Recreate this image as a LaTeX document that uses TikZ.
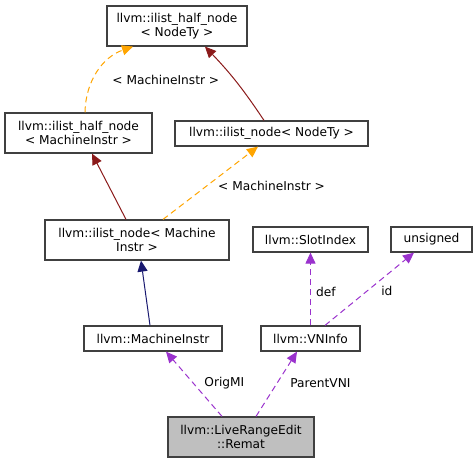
\documentclass[tikz,border=0pt]{standalone}
\usepackage{fontspec}
\setmainfont{DejaVu Sans}
\usetikzlibrary{arrows.meta,positioning}
\definecolor{tmplc}{HTML}{FFA500}
\definecolor{inhc}{HTML}{8B1A1A}
\definecolor{pubc}{HTML}{191970}
\definecolor{usec}{HTML}{9A32CD}

\begin{document}
\begin{tikzpicture}[x=1pt,y=-1pt,->,>={Stealth[length=11pt,width=10pt,inset=0pt]},line width=1pt,font=\fontsize{12.2}{14}\selectfont]
\tikzstyle{cls}=[draw=black!75,line width=1.2pt,fill=white,text=black,align=center,inner sep=0pt,minimum height=25pt]
\tikzstyle{two}=[minimum height=40pt]
\tikzstyle{lbl}=[anchor=west,inner sep=1pt,text=black]
\tikzstyle{tmpl}=[draw=tmplc,dash pattern=on 6pt off 4pt]
\tikzstyle{inh}=[draw=inhc]
\tikzstyle{pub}=[draw=pubc]
\tikzstyle{use}=[draw=usec,dash pattern=on 6pt off 4pt]
\useasboundingbox (0,0) rectangle (476,464);
\node[cls,two,minimum width=140pt] (0) at (177,26) {llvm::ilist\_half\_node\\< NodeTy >};
\node[cls,two,minimum width=147pt] (1) at (78.5,133) {llvm::ilist\_half\_node\\< MachineInstr >};
\node[cls,minimum width=193pt] (2) at (271.5,133.5) {llvm::ilist\_node< NodeTy >};
\node[cls,two,minimum width=184pt] (3) at (137,240) {llvm::ilist\_node< Machine\\Instr >};
\node[cls,minimum width=115pt] (4) at (310.5,239.5) {llvm::SlotIndex};
\node[cls,minimum width=81pt] (5) at (431.5,239.5) {unsigned};
\node[cls,minimum width=138pt] (6) at (153,338.5) {llvm::MachineInstr};
\node[cls,minimum width=99pt] (7) at (310.5,338.5) {llvm::VNInfo};
\node[cls,two,minimum width=146pt,fill=black!25] (8) at (241,437) {llvm::LiveRangeEdit\\::Remat};
\path
([xshift=6.5pt]1.north) edge[tmpl,bend left=35] node[lbl,pos=0.5,xshift=13pt,yshift=-9pt] {< MachineInstr >} ([xshift=-44pt]0.south)
([xshift=-7.5pt]2.north) edge[inh,bend right=5] ([xshift=28pt]0.south)
([xshift=-11pt]3.north) edge[inh] ([xshift=13.5pt]1.south)
([xshift=26pt]3.north) edge[tmpl] node[lbl,pos=0.46,xshift=10pt] {< MachineInstr >} ([xshift=-13.5pt]2.south)
([xshift=-3pt]6.north) edge[pub] ([xshift=4pt]3.south)
(7.north) edge[use] node[lbl,pos=0.46,xshift=4pt] {def} (4.south)
([xshift=14.5pt]7.north) edge[use] node[lbl,pos=0.47,xshift=13pt] {id} ([xshift=-17.5pt]5.south)
([xshift=-19pt]8.north) edge[use] node[lbl,pos=0.51,xshift=9.5pt] {OrigMI} ([xshift=13pt]6.south)
([xshift=15pt]8.north) edge[use] node[lbl,pos=0.51,xshift=12pt] {ParentVNI} ([xshift=-13.5pt]7.south)
;
\end{tikzpicture}
\end{document}
